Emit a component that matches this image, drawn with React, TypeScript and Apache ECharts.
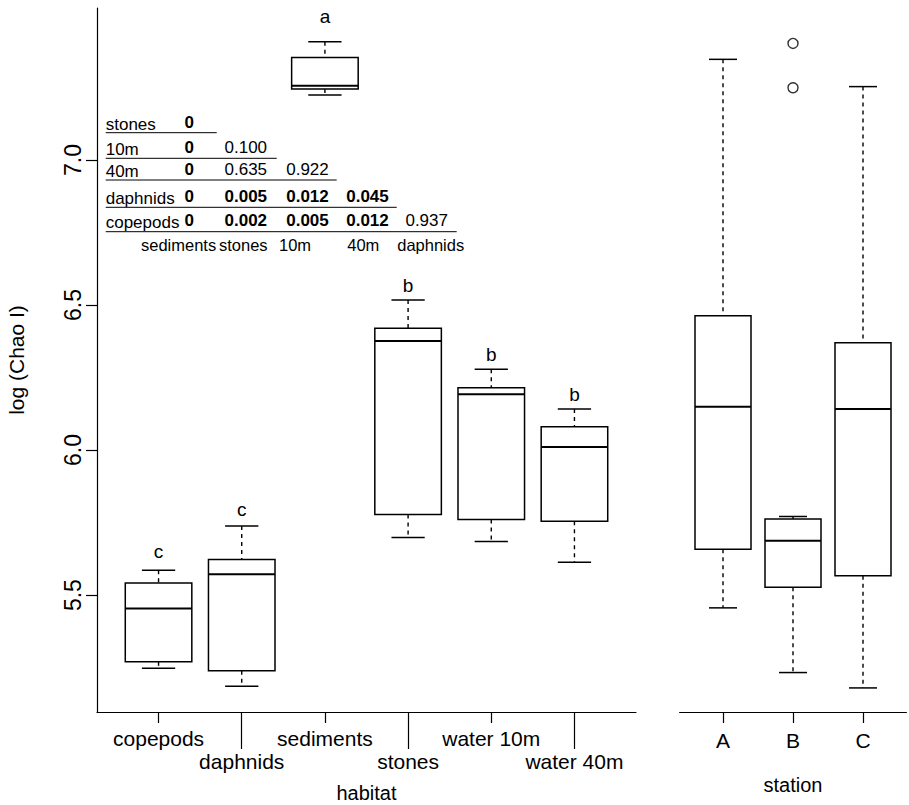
import React, { useEffect, useRef } from "react";
import * as echarts from "echarts";

// ---- data ----
const habitats = ["copepods", "daphnids", "sediments", "stones", "water 10m", "water 40m"];
const habitatLow = [5.248, 5.186, 7.224, 5.699, 5.685, 5.613];
const habitatQ1 = [5.27, 5.239, 7.245, 5.778, 5.761, 5.755];
const habitatMedian = [5.454, 5.572, 7.256, 6.376, 6.192, 6.011];
const habitatQ3 = [5.542, 5.623, 7.353, 6.42, 6.215, 6.08];
const habitatHigh = [5.586, 5.738, 7.408, 6.517, 6.279, 6.142];
const habitatLetters = ["c", "c", "a", "b", "b", "b"];
const letterHeights = [5.649, 5.794, 7.493, 6.566, 6.328, 6.191];

const stations = ["A", "B", "C"];
const stationLow = [5.456, 5.233, 5.18];
const stationQ1 = [5.658, 5.527, 5.567];
const stationMedian = [6.149, 5.687, 6.142];
const stationQ3 = [6.463, 5.762, 6.37];
const stationHigh = [7.347, 5.771, 7.253];
const outlierStation = [2, 2];
const outlierValue = [7.402, 7.249];

const yTicks = [5.5, 6.0, 6.5, 7.0];
const yMin = 5.097;
const yMax = 7.524;

const tableRows = ["stones", "10m", "40m", "daphnids", "copepods"];
const tableCols = ["sediments", "stones", "10m", "40m", "daphnids"];
const tableValues = [
  ["0"],
  ["0", "0.100"],
  ["0", "0.635", "0.922"],
  ["0", "0.005", "0.012", "0.045"],
  ["0", "0.002", "0.005", "0.012", "0.937"],
];

// ---- layout / style ----
const FONT = "Liberation Sans, Arial, Helvetica, sans-serif";
const INK = "#000";

function boxRender(letters?: string[]) {
  return (params: any, api: any) => {
    const x = api.value(0);
    const lo = api.value(1);
    const q1 = api.value(2);
    const med = api.value(3);
    const q3 = api.value(4);
    const hi = api.value(5);
    const tl = api.coord([x - 0.4, q3]);
    const br = api.coord([x + 0.4, q1]);
    const m = api.coord([x, med]);
    const cHi = api.coord([x, hi]);
    const cLo = api.coord([x, lo]);
    const capL = api.coord([x - 0.2, hi])[0];
    const capR = api.coord([x + 0.2, hi])[0];
    const dashed = { stroke: INK, lineWidth: 1.4, lineDash: [4, 4] };
    const solid = { stroke: INK, lineWidth: 1.5 };
    const children: any[] = [
      { type: "line", shape: { x1: cHi[0], y1: cHi[1], x2: cHi[0], y2: tl[1] }, style: dashed },
      { type: "line", shape: { x1: cLo[0], y1: br[1], x2: cLo[0], y2: cLo[1] }, style: dashed },
      { type: "line", shape: { x1: capL, y1: cHi[1], x2: capR, y2: cHi[1] }, style: solid },
      { type: "line", shape: { x1: capL, y1: cLo[1], x2: capR, y2: cLo[1] }, style: solid },
      {
        type: "rect",
        shape: { x: tl[0], y: tl[1], width: br[0] - tl[0], height: br[1] - tl[1] },
        style: { fill: "none", stroke: INK, lineWidth: 1.5 },
      },
      { type: "line", shape: { x1: tl[0], y1: m[1], x2: br[0], y2: m[1] }, style: { stroke: INK, lineWidth: 2 } },
    ];
    if (letters) {
      const lp = api.coord([x, api.value(6)]);
      children.push({
        type: "text",
        x: lp[0],
        y: lp[1],
        style: {
          text: letters[params.dataIndex],
          fontSize: 19,
          fontFamily: FONT,
          fill: INK,
          align: "center",
          verticalAlign: "middle",
        },
      });
    }
    return { type: "group", children };
  };
}

function buildTable(): any[] {
  const els: any[] = [];
  const rowY = [124, 149.3, 171, 198.3, 222.7];
  const lineY = [132.7, 158.3, 180, 207.3, 231.7];
  const lineEnd = [216.7, 276.7, 336.7, 396.7, 456.7];
  const colX = [189.3, 245.8, 307.5, 367.5, 426.7];
  const colLabelX = [178.6, 243.3, 295, 363.3, 430.7];
  const left = 105.7;
  const fs = 17;
  tableRows.forEach((r, i) => {
    els.push({
      type: "text",
      x: left,
      y: rowY[i],
      style: { text: r, fontSize: fs, fontFamily: FONT, fill: INK, align: "left", verticalAlign: "middle" },
    });
    tableValues[i].forEach((v, j) => {
      els.push({
        type: "text",
        x: colX[j],
        y: rowY[i] - 2,
        style: {
          text: v,
          fontSize: fs,
          fontFamily: FONT,
          fontWeight: parseFloat(v) < 0.05 ? "bold" : "normal",
          fill: INK,
          align: "center",
          verticalAlign: "middle",
        },
      });
    });
    els.push({
      type: "line",
      shape: { x1: left, y1: lineY[i], x2: lineEnd[i], y2: lineY[i] },
      style: { stroke: INK, lineWidth: 1 },
    });
  });
  tableCols.forEach((c, j) => {
    els.push({
      type: "text",
      x: colLabelX[j],
      y: 245,
      style: { text: c, fontSize: 16.5, fontFamily: FONT, fill: INK, align: "center", verticalAlign: "middle" },
    });
  });
  return els;
}

const axisText = { fontSize: 21, fontFamily: FONT, color: INK };
const titleText = { fontSize: 20, fontFamily: FONT, color: INK, lineHeight: 18 };
const lineStyle = { color: INK, width: 1.2 };

export default function App() {
  const ref = useRef<HTMLDivElement>(null);
  useEffect(() => {
    document.body.style.margin = "0";
    if (!ref.current) return;
    const chart = echarts.init(ref.current, undefined, { renderer: "svg" });
    const habitatData = habitats.map((_, i) => [
      i + 1,
      habitatLow[i],
      habitatQ1[i],
      habitatMedian[i],
      habitatQ3[i],
      habitatHigh[i],
      letterHeights[i],
    ]);
    const stationData = stations.map((_, i) => [
      i + 1,
      stationLow[i],
      stationQ1[i],
      stationMedian[i],
      stationQ3[i],
      stationHigh[i],
    ]);
    const option: any = {
      animation: false,
      backgroundColor: "#fff",
      grid: [
        { left: 97, top: 8, width: 539, height: 704, containLabel: false, outerBoundsMode: "none" },
        { left: 679.6, top: 8, width: 226.8, height: 704, containLabel: false, outerBoundsMode: "none" },
      ],
      xAxis: [
        {
          type: "value",
          gridIndex: 0,
          position: "bottom",
          min: 0.26,
          max: 6.74,
          axisLine: { show: true, lineStyle },
          axisTick: { show: true, customValues: [1, 3, 5], length: 11, lineStyle },
          axisLabel: {
            show: true,
            customValues: [1, 3, 5],
            formatter: (v: number) => habitats[Math.round(v) - 1],
            margin: 16,
            ...axisText,
          },
          splitLine: { show: false },
          name: "habitat",
          nameLocation: "middle",
          nameGap: 72,
          nameTextStyle: titleText,
        },
        {
          type: "value",
          gridIndex: 1,
          position: "bottom",
          min: 0.38,
          max: 3.62,
          axisLine: { show: true, lineStyle },
          axisTick: { show: true, customValues: [1, 2, 3], length: 11, lineStyle },
          axisLabel: {
            show: true,
            customValues: [1, 2, 3],
            formatter: (v: number) => stations[Math.round(v) - 1],
            margin: 18,
            ...axisText,
          },
          splitLine: { show: false },
          name: "station",
          nameLocation: "middle",
          nameGap: 64,
          nameTextStyle: titleText,
        },
        {
          type: "value",
          gridIndex: 0,
          position: "bottom",
          min: 0.26,
          max: 6.74,
          axisLine: { show: false },
          axisTick: { show: true, customValues: [2, 4, 6], length: 37, lineStyle },
          axisLabel: {
            show: true,
            customValues: [2, 4, 6],
            formatter: (v: number) => habitats[Math.round(v) - 1],
            margin: 39,
            ...axisText,
          },
          splitLine: { show: false },
        },
      ],
      yAxis: [
        {
          type: "value",
          gridIndex: 0,
          min: yMin,
          max: yMax,
          axisLine: { show: true, lineStyle },
          axisTick: { show: true, customValues: yTicks, length: 11, lineStyle },
          axisLabel: {
            show: true,
            customValues: yTicks,
            rotate: 90,
            formatter: (v: number) => v.toFixed(1),
            margin: 13,
            ...axisText,
            fontSize: 23,
          },
          splitLine: { show: false },
          name: "log (Chao I)",
          nameLocation: "middle",
          nameRotate: 90,
          nameGap: 70,
          nameTextStyle: { ...titleText, fontSize: 21, lineHeight: 22 },
        },
        {
          type: "value",
          gridIndex: 1,
          min: yMin,
          max: yMax,
          show: false,
          splitLine: { show: false },
        },
      ],
      series: [
        {
          type: "custom",
          xAxisIndex: 0,
          yAxisIndex: 0,
          renderItem: boxRender(habitatLetters),
          encode: { x: 0, y: [1, 2, 3, 4, 5] },
          data: habitatData,
          clip: false,
        },
        {
          type: "custom",
          xAxisIndex: 1,
          yAxisIndex: 1,
          renderItem: boxRender(),
          encode: { x: 0, y: [1, 2, 3, 4, 5] },
          data: stationData,
          clip: false,
        },
        {
          type: "scatter",
          xAxisIndex: 1,
          yAxisIndex: 1,
          symbol: "circle",
          symbolSize: 10,
          itemStyle: { color: "#fff", borderColor: INK, borderWidth: 1.4 },
          data: outlierStation.map((s, i) => [s, outlierValue[i]]),
        },
      ],
      graphic: buildTable(),
    };
    chart.setOption(option);
    return () => chart.dispose();
  }, []);
  return <div ref={ref} style={{ width: 909, height: 805 }} />;
}
